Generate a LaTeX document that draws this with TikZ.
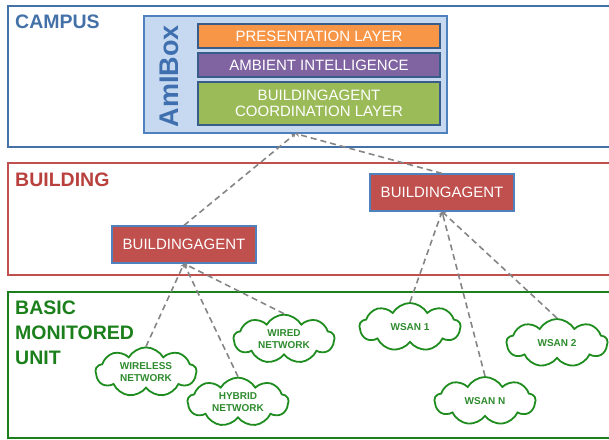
\documentclass[tikz,border=0pt]{standalone}
\usepackage{fontspec}
\setmainfont{Liberation Sans}
\usetikzlibrary{shapes.symbols,arrows.meta}
\definecolor{campusblue}{HTML}{4472A8}
\definecolor{amifill}{HTML}{C6D9F1}
\definecolor{amiborder}{HTML}{4F81BD}
\definecolor{amitext}{HTML}{3F6FAE}
\definecolor{layerborder}{HTML}{385D8A}
\definecolor{orangel}{HTML}{F79646}
\definecolor{purplel}{HTML}{8064A2}
\definecolor{greenl}{HTML}{9BBB59}
\definecolor{bred}{HTML}{C0504D}
\definecolor{bredtext}{HTML}{B8403D}
\definecolor{bmugreen}{HTML}{1B7F1B}
\definecolor{cloudgreen}{HTML}{1E8C1E}
\definecolor{cloudtext}{HTML}{2E8B2E}
\definecolor{dashgray}{HTML}{858585}
\tikzset{
  area/.style={draw, line width=2.2pt, fill=none, minimum width=618pt, anchor=north west, inner sep=0pt},
  arealabel/.style={anchor=west, font=\bfseries\fontsize{19.5}{24}\selectfont, inner sep=0pt, align=left},
  layer/.style={draw=layerborder, line width=1.3pt, text=white, minimum width=242pt, inner sep=0pt, font=\fontsize{15}{16.5}\selectfont, align=center},
  agent/.style={draw=amiborder, line width=1.2pt, fill=bred, text=white, minimum width=144pt, minimum height=37pt, inner sep=0pt, font=\fontsize{15}{18}\selectfont},
  net/.style={cloud, cloud puffs=9, cloud puff arc=120, aspect=2, draw=cloudgreen, line width=1.8pt, fill=white, minimum width=101pt, minimum height=48pt, inner sep=0pt, text=cloudtext, font=\bfseries\fontsize{10}{12}\selectfont, align=center},
  link/.style={draw=dashgray, line width=1.6pt, dash pattern=on 6pt off 4pt, -{Stealth[length=4pt,width=4.5pt]}}
}
\begin{document}
\begin{tikzpicture}[x=1pt,y=-1pt]
\useasboundingbox (0,0) rectangle (609,439);
\clip (0,0) rectangle (609,439);
% areas
\node[area, draw=campusblue, minimum height=141pt] (campus) at (7,5) {};
\node[area, draw=bred, minimum height=112pt] (building) at (7,162) {};
\node[area, draw=bmugreen, minimum height=146pt] (bmu) at (7,291) {};
\node[arealabel, text=campusblue] (campuslbl) at (15,22) {CAMPUS};
\node[arealabel, text=bredtext] (buildinglbl) at (15,180) {BUILDING};
\node[arealabel, text=bmugreen, anchor=north west, font=\bfseries\fontsize{19.5}{25}\selectfont] (bmulbl) at (15,301) {BASIC\\MONITORED\\UNIT};
% AmIBox
\node[draw=amiborder, line width=1.3pt, fill=amifill, minimum width=303pt, minimum height=117pt, inner sep=0pt] (amibox) at (295.5,74.5) {};
\node[rotate=90, text=amitext, font=\bfseries\fontsize{27}{30}\selectfont, inner sep=0pt] (amilbl) at (169,76) {AmIBox};
\node[layer, fill=orangel, minimum height=24pt] (pres) at (319,36) {PRESENTATION LAYER};
\node[layer, fill=purplel, minimum height=24pt] (ambient) at (319,65) {AMBIENT INTELLIGENCE};
\node[layer, fill=greenl, minimum height=43pt] (coord) at (319,103.5) {BUILDINGAGENT\\COORDINATION LAYER};
% agents
\node[agent] (agentL) at (184,244.5) {BUILDINGAGENT};
\node[agent] (agentR) at (442,192.5) {BUILDINGAGENT};
% clouds
\node[net] (wireless) at (146,372) {WIRELESS\\NETWORK};
\node[net] (hybrid) at (238,402) {HYBRID\\NETWORK};
\node[net] (wired) at (284,339) {WIRED\\NETWORK};
\node[net] (wsan1) at (410,327) {WSAN 1};
\node[net] (wsan2) at (557,343) {WSAN 2};
\node[net] (wsann) at (485,401) {WSAN N};
% links
\draw[link] (agentL.north) -- (amibox.south);
\draw[link] (agentR.north) -- (amibox.south);
\draw[link] (wireless.north) -- (agentL.south);
\draw[link] (hybrid.north) -- (agentL.south);
\draw[link] (wired.north) -- (agentL.south);
\draw[link] (wsan1.north) -- (agentR.south);
\draw[link] (wsann.north) -- (agentR.south);
\draw[link] (wsan2.north) -- (agentR.south);
\end{tikzpicture}
\end{document}
